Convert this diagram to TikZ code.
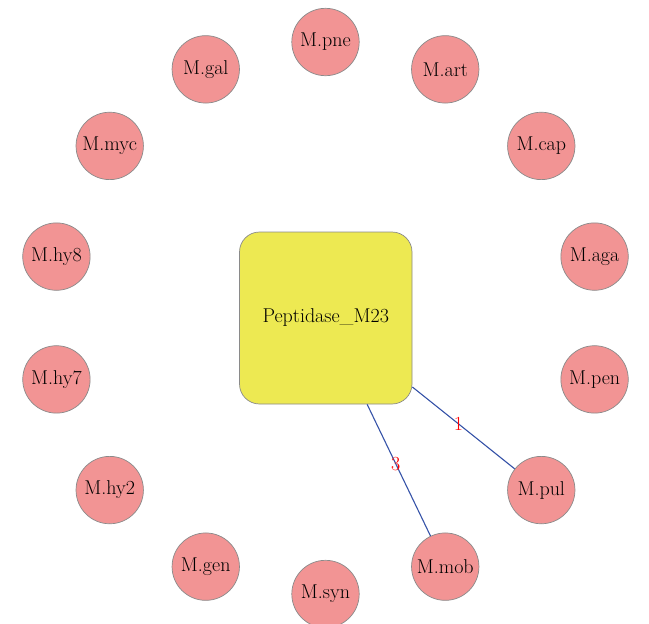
\documentclass[tikz,border=0pt]{standalone}
\usetikzlibrary{calc}
\definecolor{nodepink}{HTML}{F29494}
\definecolor{boxyellow}{HTML}{EDE952}
\definecolor{edgeblue}{HTML}{3653A8}
\definecolor{bordergray}{HTML}{8A8A8A}
\begin{document}
\begin{tikzpicture}[x=1pt,y=-1pt,
  species/.style={circle, fill=nodepink, draw=bordergray, line width=0.7pt,
    minimum size=67.4pt, inner sep=0pt, font=\fontsize{20}{24}\selectfont},
  domainbox/.style={rectangle, rounded corners=20pt, fill=boxyellow, draw=bordergray,
    line width=0.7pt, minimum width=172.5pt, minimum height=172pt, inner sep=0pt,
    font=\fontsize{20}{24}\selectfont},
  link/.style={draw=edgeblue, line width=1.1pt},
  weight/.style={text=red, inner sep=0pt, font=\fontsize{20}{24}\selectfont}]
\useasboundingbox (0,0) rectangle (649,624);
\node[domainbox] (pep) at (325.75,318) {Peptidase\_M23};
\foreach \name/\lab [count=\i from 0] in {pne/M.pne, art/M.art, cap/M.cap, aga/M.aga, pen/M.pen, pul/M.pul, mob/M.mob, syn/M.syn, gen/M.gen, hy2/M.hy2, hy7/M.hy7, hy8/M.hy8, myc/M.myc, gal/M.gal}{
  \node[species] (\name) at ({325.5+276*cos(90-\i*360/14)},{318-276*sin(90-\i*360/14)}) {\lab};
}
\draw[link] (pep) -- node[weight, pos=0.45] {1} (pul);
\draw[link] (pep) -- node[weight, pos=0.45] {3} (mob);
\end{tikzpicture}
\end{document}
